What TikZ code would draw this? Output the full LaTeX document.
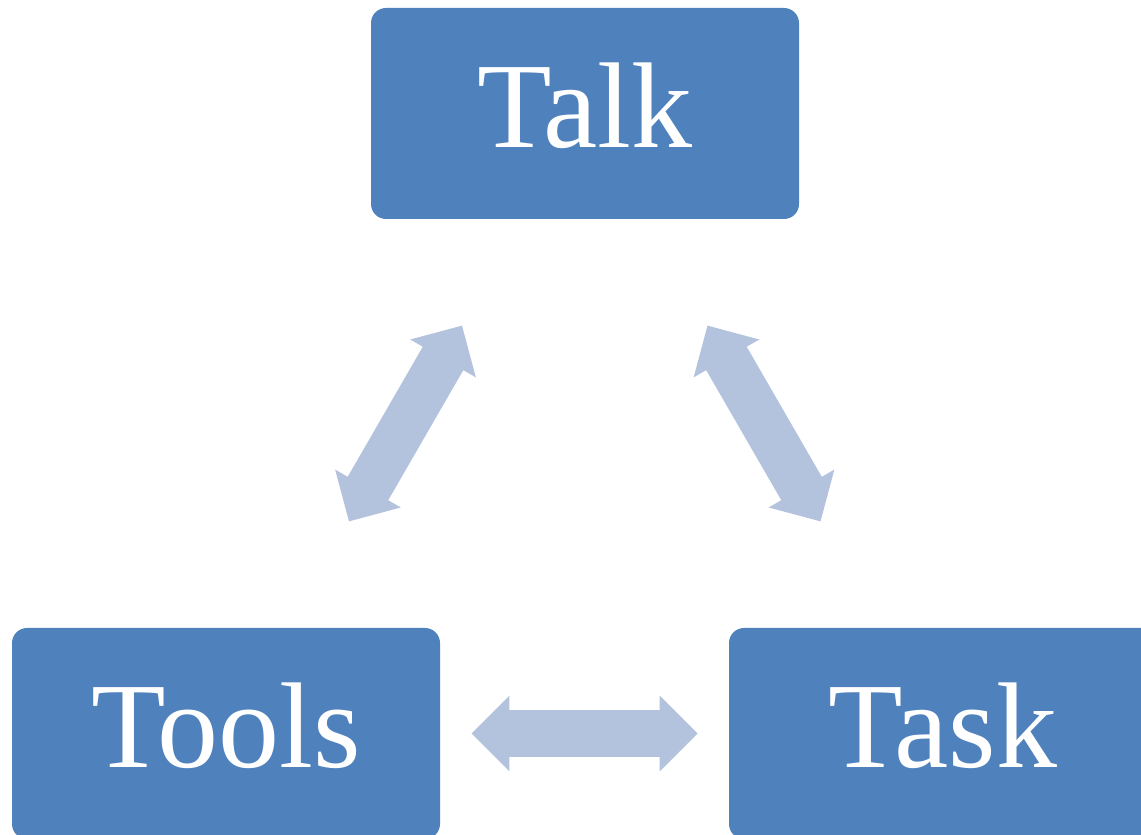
\documentclass[tikz,border=0pt]{standalone}
\usepackage{fontspec}
\setmainfont{Liberation Serif}
\usetikzlibrary{shapes.arrows,calc}

\definecolor{boxblue}{RGB}{79,129,189}
\definecolor{linkblue}{RGB}{179,194,221}

\tikzset{
  topic/.style={rectangle, rounded corners=7.5pt, fill=boxblue, text=white,
    minimum width=214pt, minimum height=105.5pt, inner sep=0pt,
    font=\fontsize{61}{70}\selectfont, text height=41.5pt, text depth=7pt},
  % shaft width comes from inner ysep, head from the extend
  link/.style={double arrow, fill=linkblue, inner xsep=0pt, inner ysep=11.5pt,
    minimum height=113pt, minimum width=37.5pt, double arrow head extend=7.25pt}
}

\begin{document}
\begin{tikzpicture}[x=0.5pt,y=0.5pt]
\clip (0,0) rectangle (1141,835);

\node[topic] (talk) at (585,721.5) {Talk};
\node[topic] (tools) at (226,101.5) {Tools};
\node[topic] (task) at (943,101.5) {Task};

\node[link, rotate=60] (talktools) at ($(tools)!0.5!(talk)$) {};
\node[link, rotate=-60] (talktask) at ($(task)!0.5!(talk)$) {};
\node[link] (toolstask) at ($(tools)!0.5!(task)$) {};

\end{tikzpicture}
\end{document}
